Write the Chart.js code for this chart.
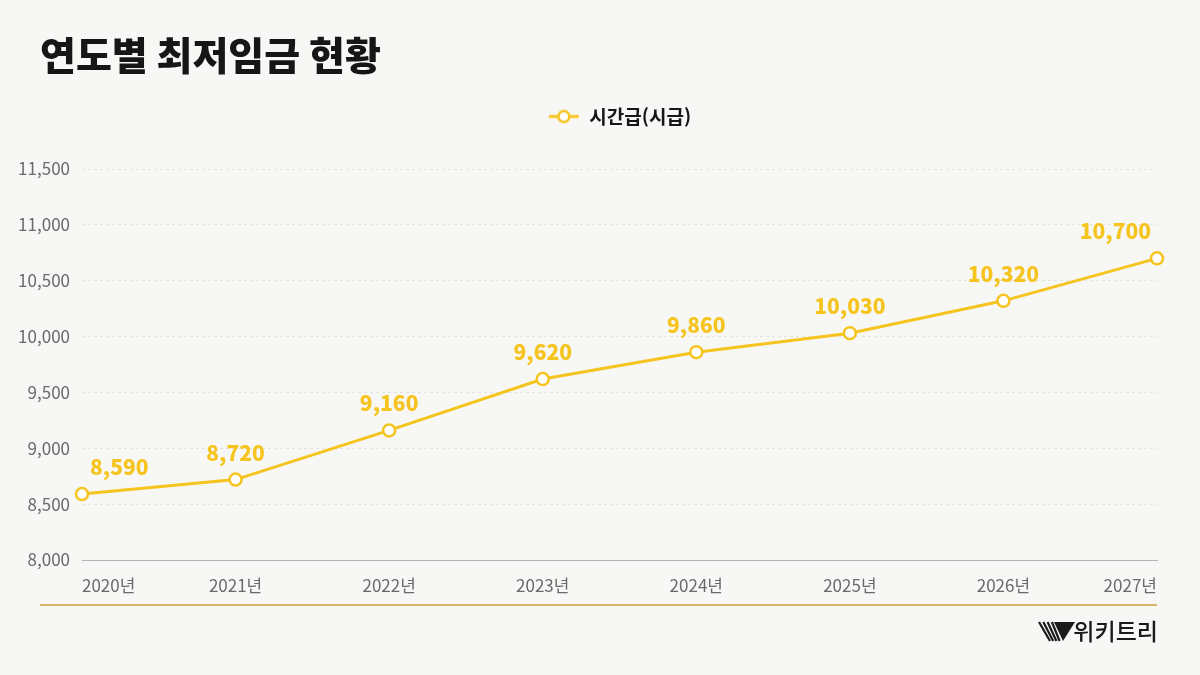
<!DOCTYPE html>
<html lang="ko">
<head>
<meta charset="utf-8">
<script src="https://cdn.jsdelivr.net/npm/chart.js@4.4.1/dist/chart.umd.min.js"></script>
<style>
  html, body { margin: 0; padding: 0; background: #f7f7f5; }
  #wrap { width: 1200px; height: 675px; }
</style>
</head>
<body>
<div id="wrap"><canvas id="wage-chart" width="1200" height="675"></canvas></div>
<script>
// Chart data
const years = ['2020년', '2021년', '2022년', '2023년', '2024년', '2025년', '2026년', '2027년'];
const hourlyWage = [8590, 8720, 9160, 9620, 9860, 10030, 10320, 10700];
const seriesName = '시간급(시급)';
const chartTitle = '연도별 최저임금 현황';
const sourceName = '위키트리';

const YELLOW = '#f6c41f';
const FONT = "'Noto Sans CJK KR', 'Noto Sans', sans-serif";

// Legend marker: short line with an open circle
function makeLegendMarker() {
    const c = document.createElement('canvas');
    c.width = 32;
    c.height = 16;
    const ctx = c.getContext('2d');
    ctx.strokeStyle = YELLOW;
    ctx.lineWidth = 3;
    ctx.beginPath();
    ctx.moveTo(1, 8);
    ctx.lineTo(31, 8);
    ctx.stroke();
    ctx.fillStyle = '#ffffff';
    ctx.lineWidth = 2.5;
    ctx.beginPath();
    ctx.arc(16, 8, 5.5, 0, Math.PI * 2);
    ctx.fill();
    ctx.stroke();
    return c;
}

// Extra room under the legend
const legendSpacing = {
    id: 'legendSpacing',
    beforeInit(chart) {
        const origFit = chart.legend.fit;
        chart.legend.fit = function() {
            origFit.bind(chart.legend)();
            this.height += 33;
        };
    }
};

// Big heading, drawn at the page margin
const heading = {
    id: 'heading',
    afterDraw(chart) {
        const ctx = chart.ctx;
        ctx.save();
        ctx.font = '900 39px ' + FONT;
        ctx.fillStyle = '#161616';
        ctx.textAlign = 'left';
        ctx.textBaseline = 'middle';
        ctx.fillText(chartTitle, 40, 55);
        ctx.restore();
    }
};

// Value labels above each point
const valueLabels = {
    id: 'valueLabels',
    afterDatasetsDraw(chart) {
        const ctx = chart.ctx;
        const meta = chart.getDatasetMeta(0);
        const data = chart.data.datasets[0].data;
        ctx.save();
        ctx.font = '800 21px ' + FONT;
        ctx.fillStyle = YELLOW;
        ctx.textBaseline = 'middle';
        meta.data.forEach((pt, i) => {
            let x = pt.x;
            ctx.textAlign = 'center';
            if (i === 0) { ctx.textAlign = 'left'; x = pt.x + 8; }
            if (i === data.length - 1) { ctx.textAlign = 'right'; x = pt.x - 6; }
            ctx.fillText(data[i].toLocaleString('en-US'), x, pt.y - 27);
        });
        ctx.restore();
    }
};

// Bottom rule and source logo
const footer = {
    id: 'footer',
    afterDraw(chart) {
        const ctx = chart.ctx;
        const right = chart.chartArea.right;
        ctx.save();
        ctx.strokeStyle = '#c9a33e';
        ctx.lineWidth = 1.5;
        ctx.beginPath();
        ctx.moveTo(40, 605);
        ctx.lineTo(right, 605);
        ctx.stroke();

        // W mark: striped left half, solid triangle right half
        ctx.fillStyle = '#1a1a1a';
        ctx.beginPath();
        ctx.moveTo(1054, 622);
        ctx.lineTo(1075, 622);
        ctx.lineTo(1063, 641);
        ctx.closePath();
        ctx.fill();
        ctx.strokeStyle = '#1a1a1a';
        ctx.lineWidth = 2.2;
        for (let k = 0; k < 4; k++) {
            ctx.beginPath();
            ctx.moveTo(1039 + k * 4.3, 622);
            ctx.lineTo(1050 + k * 3.2, 641);
            ctx.stroke();
        }

        ctx.fillStyle = '#1a1a1a';
        ctx.font = '500 23px ' + FONT;
        ctx.textAlign = 'right';
        ctx.textBaseline = 'middle';
        ctx.fillText(sourceName, right + 1, 631);
        ctx.restore();
    }
};

const ctx = document.getElementById('wage-chart').getContext('2d');
const wageChart = new Chart(ctx, {
    type: 'line',
    data: {
        labels: years,
        datasets: [{
            label: seriesName,
            data: hourlyWage,
            borderColor: YELLOW,
            borderWidth: 3,
            backgroundColor: '#ffffff',
            pointBackgroundColor: '#ffffff',
            pointBorderColor: YELLOW,
            pointBorderWidth: 2.5,
            pointRadius: 6,
            tension: 0,
            clip: false
        }]
    },
    options: {
        responsive: false,
        animation: false,
        devicePixelRatio: 1,
        layout: {
            padding: { left: 4, right: 43, top: 75, bottom: 65 }
        },
        plugins: {
            title: { display: false },
            legend: {
                position: 'top',
                fullSize: false,
                labels: {
                    usePointStyle: true,
                    pointStyleWidth: 32,
                    padding: 32,
                    color: '#161616',
                    font: { family: FONT, size: 19, weight: 'bold' },
                    generateLabels(chart) {
                        return [{
                            text: seriesName,
                            pointStyle: makeLegendMarker(),
                            fillStyle: '#ffffff',
                            strokeStyle: YELLOW,
                            lineWidth: 0,
                            fontColor: '#161616',
                            datasetIndex: 0
                        }];
                    }
                }
            },
            tooltip: { enabled: false }
        },
        scales: {
            x: {
                offset: false,
                grid: { display: false, drawTicks: false },
                border: { display: true, color: '#b5b5b5', width: 1 },
                ticks: {
                    align: 'inner',
                    padding: 15,
                    color: '#6a6a6a',
                    font: { family: FONT, size: 17 },
                    maxRotation: 0
                },
                afterFit(scale) { scale.height = 50; }
            },
            y: {
                min: 8000,
                max: 11500,
                grid: {
                    color: '#e3e3e0',
                    drawTicks: false,
                    lineWidth: 1
                },
                border: { display: false, dash: [3, 3] },
                ticks: {
                    stepSize: 500,
                    padding: 12,
                    color: '#6a6a6a',
                    font: { family: FONT, size: 17 },
                    callback: v => v.toLocaleString('en-US')
                },
                afterFit(scale) { scale.width = 78; }
            }
        }
    },
    plugins: [legendSpacing, heading, valueLabels, footer]
});
</script>
</body>
</html>
